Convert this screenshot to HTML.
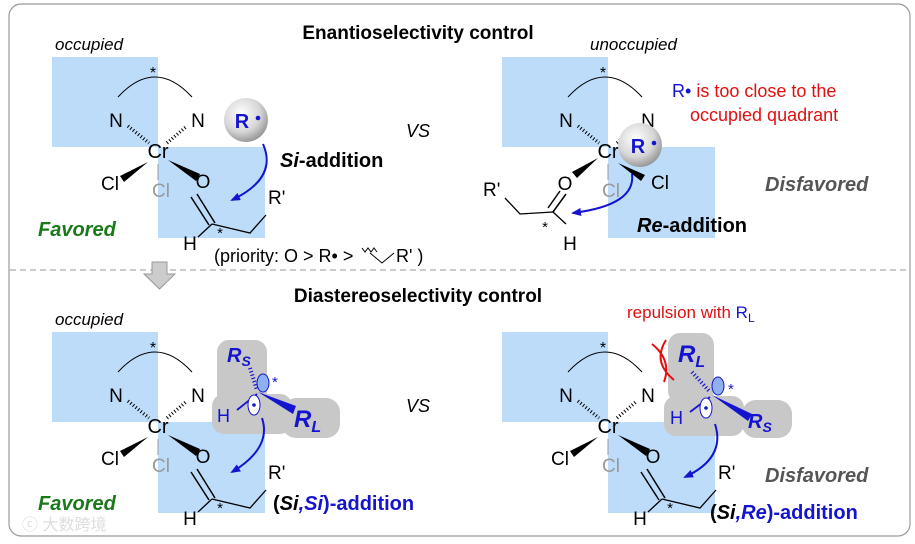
<!DOCTYPE html>
<html><head><meta charset="utf-8"><style>
html,body{margin:0;padding:0;background:#fff}
svg{display:block;font-family:"Liberation Sans",Arial,sans-serif}
</style></head><body>
<svg width="915" height="544" viewBox="0 0 915 544" xmlns="http://www.w3.org/2000/svg">
<defs>
<radialGradient id="ball" cx="0.4" cy="0.35" r="0.7">
<stop offset="0" stop-color="#ffffff"/><stop offset="0.6" stop-color="#d6d6d6"/><stop offset="1" stop-color="#8e8e8e"/>
</radialGradient>
<marker id="ah" markerWidth="10" markerHeight="8" refX="8" refY="4" orient="auto" markerUnits="userSpaceOnUse">
<path d="M0,0 L10,4 L0,8 Z" fill="#1414d0"/></marker>
<g id="base">
<rect x="-106" y="-93" width="106" height="90" fill="#bcdcfa"/>
<rect x="0" y="-3" width="107" height="91" fill="#bcdcfa"/>
<path d="M-40,-53 Q-3,-93 34,-53" fill="none" stroke="#000" stroke-width="1"/>
<text x="-5" y="-72" font-size="16" text-anchor="middle">*</text>
<text x="-42" y="-23" font-size="19" text-anchor="middle">N</text>
<text x="40" y="-23" font-size="19" text-anchor="middle">N</text>
<path d="M-30,-24 L-9,-7 M9,-7 L29,-24" stroke="#000" stroke-width="3.5" stroke-dasharray="1 2.3"/>
<text x="0" y="8" font-size="20" text-anchor="middle">Cr</text>
<line x1="0" y1="14" x2="0" y2="30" stroke="#999" stroke-width="1"/>
<text x="3" y="47" font-size="19" text-anchor="middle" fill="#999">Cl</text>
</g>
<g id="core">
<use href="#base"/>
<path d="M-10,12 L-38,26 L-34,32 Z" fill="#000"/>
<text x="-48" y="40" font-size="19" text-anchor="middle">Cl</text>
<path d="M10,10 L42,24 L38,31 Z" fill="#000"/>
<text x="45" y="38" font-size="19" text-anchor="middle">O</text>
<path d="M39,44 L57,73 M33,47 L51,75" stroke="#000" stroke-width="1.5"/>
<path d="M54,74 L40,87 M54,74 L92,83 L108,65" fill="none" stroke="#000" stroke-width="1.3"/>
<text x="32" y="100" font-size="19" text-anchor="middle">H</text>
<text x="62" y="88" font-size="15" text-anchor="middle">*</text>
<text x="110" y="54" font-size="19">R'</text>
</g>
</defs>
<rect x="9" y="4" width="901" height="532" rx="12" fill="none" stroke="#999" stroke-width="1.2"/>
<text x="418" y="39" font-size="19" font-weight="bold" text-anchor="middle">Enantioselectivity control</text>
<text x="418" y="302" font-size="19" font-weight="bold" text-anchor="middle">Diastereoselectivity control</text>
<line x1="10" y1="270" x2="908" y2="270" stroke="#999" stroke-dasharray="6 4"/>
<path d="M152,262 h15 v12 h8 l-15.5,15 l-15.5,-15 h8 z" fill="#ccc" stroke="#999"/>

<!-- top-left -->
<text x="55" y="50" font-size="17" font-style="italic">occupied</text>
<g transform="translate(158,150)"><use href="#core"/></g>
<circle cx="246" cy="120" r="22" fill="url(#ball)"/>
<text x="242" y="128" font-size="20" font-weight="bold" fill="#1414d0" text-anchor="middle">R</text>
<circle cx="258" cy="118" r="2.3" fill="#1414d0"/>
<path d="M263,144 Q278,178 232,200" fill="none" stroke="#1414d0" stroke-width="2" marker-end="url(#ah)"/>
<text x="280" y="167" font-size="20" font-weight="bold"><tspan font-style="italic">Si</tspan>-addition</text>
<text x="38" y="236" font-size="20" font-weight="bold" font-style="italic" fill="#1a7a1a">Favored</text>
<text x="214" y="262" font-size="18">(priority: O &gt; R• &gt;</text>
<path d="M362,248 l3,4 l3,-4 l3,4 l3,-4 l3,4 M370,253 L382,263 L394,253" fill="none" stroke="#000" stroke-width="1"/>
<text x="396" y="262" font-size="18">R' )</text>
<text x="418" y="137" font-size="18" font-style="italic" text-anchor="middle">VS</text>

<!-- top-right -->
<text x="590" y="50" font-size="17" font-style="italic">unoccupied</text>
<g transform="translate(608,150)"><use href="#base"/></g>
<path d="M598,158 L572,172 L577,178 Z" fill="#000"/>
<text x="565" y="190" font-size="19" text-anchor="middle">O</text>
<path d="M566,194 L553,212 M560,191 L548,208" stroke="#000" stroke-width="1.5"/>
<path d="M553,212 L566,224 M553,212 L520,214 L505,198" fill="none" stroke="#000" stroke-width="1.3"/>
<text x="570" y="250" font-size="19" text-anchor="middle">H</text>
<text x="545" y="232" font-size="15" text-anchor="middle">*</text>
<text x="483" y="196" font-size="19">R'</text>
<path d="M618,163 L645,175 L641,181 Z" fill="#000"/>
<circle cx="640" cy="145" r="22" fill="url(#ball)"/>
<text x="638" y="153" font-size="20" font-weight="bold" fill="#1414d0" text-anchor="middle">R</text>
<circle cx="654" cy="143" r="2.3" fill="#1414d0"/>
<text x="651" y="189" font-size="19">Cl</text>
<path d="M632,174 Q636,205 573,213" fill="none" stroke="#1414d0" stroke-width="2" marker-end="url(#ah)"/>
<text x="637" y="232" font-size="20" font-weight="bold"><tspan font-style="italic">Re</tspan>-addition</text>
<text x="765" y="191" font-size="20" font-weight="bold" font-style="italic" fill="#555">Disfavored</text>
<text x="672" y="97" font-size="18" fill="#e01010"><tspan fill="#1414d0">R•</tspan> is too close to the</text>
<text x="690" y="121" font-size="18" fill="#e01010">occupied quadrant</text>

<!-- bottom-left -->
<text x="55" y="325" font-size="17" font-style="italic">occupied</text>
<g transform="translate(158,425)"><use href="#core"/></g>
<g fill="#c8c8c8">
<rect x="217" y="340" width="50" height="66" rx="12"/>
<rect x="212" y="394" width="80" height="40" rx="12"/>
<rect x="282" y="398" width="58" height="40" rx="14"/>
</g>
<text x="227" y="362" font-size="20" font-weight="bold" font-style="italic" fill="#1414d0">R<tspan font-size="14" dy="4">S</tspan></text>
<path d="M250,368 L257,390" stroke="#1414d0" stroke-width="4" stroke-dasharray="1.2 2.2"/>
<path d="M258,392 L296,406 L293,414 Z" fill="#1414d0"/>
<text x="294" y="427" font-size="24" font-weight="bold" font-style="italic" fill="#1414d0">R<tspan font-size="16" dy="5">L</tspan></text>
<text x="217" y="422" font-size="18" fill="#1414d0">H</text>
<line x1="237" y1="410" x2="257" y2="394" stroke="#1414d0" stroke-width="1.8"/>
<ellipse cx="263" cy="383" rx="6" ry="9" fill="#8fb0f0" stroke="#1414d0"/>
<ellipse cx="254" cy="405" rx="6" ry="10" fill="#fff" stroke="#1414d0"/>
<circle cx="254" cy="405" r="1.8" fill="#1414d0"/>
<text x="272" y="387" font-size="15" fill="#1414d0">*</text>
<path d="M262,418 Q272,448 232,472" fill="none" stroke="#1414d0" stroke-width="2" marker-end="url(#ah)"/>
<text x="38" y="510" font-size="20" font-weight="bold" font-style="italic" fill="#1a7a1a">Favored</text>
<text x="273" y="510" font-size="20" font-weight="bold">(<tspan font-style="italic">Si</tspan><tspan fill="#1414d0" font-style="italic">,Si</tspan><tspan fill="#1414d0">)-addition</tspan></text>
<text x="418" y="412" font-size="18" font-style="italic" text-anchor="middle">VS</text>

<!-- bottom-right -->
<g transform="translate(608,425)"><use href="#core"/></g>
<g fill="#c8c8c8">
<rect x="668" y="333" width="46" height="70" rx="12"/>
<rect x="664" y="396" width="80" height="40" rx="12"/>
<rect x="742" y="400" width="50" height="38" rx="14"/>
</g>
<text x="678" y="362" font-size="24" font-weight="bold" font-style="italic" fill="#1414d0">R<tspan font-size="16" dy="5">L</tspan></text>
<path d="M692,372 L710,392" stroke="#1414d0" stroke-width="4" stroke-dasharray="1.2 2.2"/>
<path d="M712,395 L752,414 L748,421 Z" fill="#1414d0"/>
<text x="748" y="428" font-size="20" font-weight="bold" font-style="italic" fill="#1414d0">R<tspan font-size="14" dy="4">S</tspan></text>
<text x="670" y="424" font-size="18" fill="#1414d0">H</text>
<line x1="690" y1="412" x2="710" y2="397" stroke="#1414d0" stroke-width="1.8"/>
<ellipse cx="718" cy="386" rx="6" ry="9" fill="#8fb0f0" stroke="#1414d0"/>
<ellipse cx="706" cy="408" rx="6" ry="10" fill="#fff" stroke="#1414d0"/>
<circle cx="706" cy="408" r="1.8" fill="#1414d0"/>
<text x="728" y="394" font-size="15" fill="#1414d0">*</text>
<path d="M715,424 Q726,458 685,477" fill="none" stroke="#1414d0" stroke-width="2" marker-end="url(#ah)"/>
<path d="M652,344 Q672,360 664,382 M666,340 Q652,362 674,380" fill="none" stroke="#e01010" stroke-width="2"/>
<text x="627" y="318" font-size="17" fill="#e01010">repulsion with <tspan fill="#1414d0">R<tspan font-size="12" dy="4">L</tspan></tspan></text>
<text x="765" y="482" font-size="20" font-weight="bold" font-style="italic" fill="#555">Disfavored</text>
<text x="710" y="519" font-size="20" font-weight="bold">(<tspan font-style="italic">Si</tspan><tspan fill="#1414d0" font-style="italic">,Re</tspan><tspan fill="#1414d0">)-addition</tspan></text>

<text x="22" y="530" font-size="16" fill="#ddd" font-family="'Liberation Sans','Noto Sans CJK SC',sans-serif">ⓒ 大数跨境</text>
</svg>
</body></html>
